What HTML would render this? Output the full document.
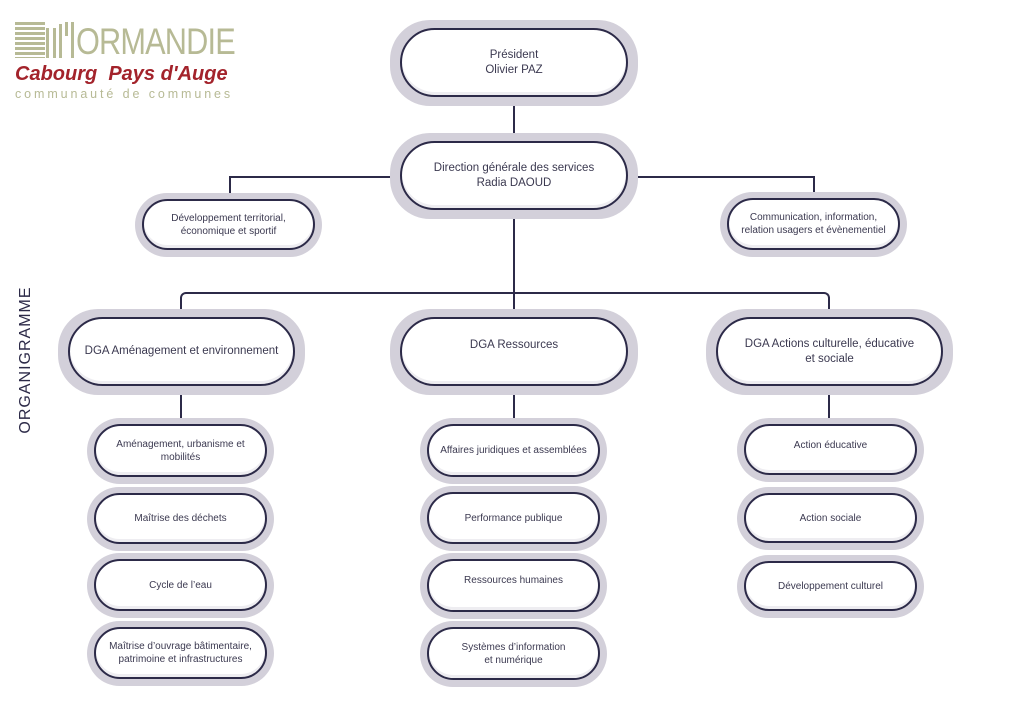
<!DOCTYPE html>
<html><head><meta charset="utf-8"><style>
body{margin:0;width:1024px;height:724px;background:#fff;position:relative;overflow:hidden;font-family:"Liberation Sans",sans-serif}
.o{position:absolute;background:#d3d0da;border-radius:40px}
.i{position:absolute;left:7px;right:7px;top:6px;bottom:7px;border:2px solid #2c2a48;border-radius:40px;background:#fff;box-shadow:inset 0 -3px 0 #eeedf1;display:flex;align-items:center;justify-content:center;text-align:center;color:#3b3950;font-size:10px;line-height:13px}
.b .i{font-size:11.5px;line-height:15px;left:10px;right:10px;top:8px;bottom:9px}
.l{position:absolute;background:#2c2a48}
</style></head><body>
<!-- logo -->
<div style="position:absolute;left:15px;top:22px;width:30px;height:36px;background:repeating-linear-gradient(#b7ba95 0 3px,transparent 3px 5px)"></div>
<div style="position:absolute;left:46px;top:28px;width:3px;height:30px;background:#b7ba95"></div>
<div style="position:absolute;left:53px;top:28px;width:3px;height:30px;background:#b7ba95"></div>
<div style="position:absolute;left:59px;top:24px;width:3px;height:34px;background:#b7ba95"></div>
<div style="position:absolute;left:65px;top:22px;width:3px;height:14px;background:#b7ba95"></div>
<div style="position:absolute;left:71px;top:22px;width:3px;height:36px;background:#b7ba95"></div>
<div style="position:absolute;left:76px;top:24px;font-size:37px;line-height:36px;color:#b7ba95;letter-spacing:-1px;transform:scaleX(0.83);transform-origin:left;white-space:nowrap">ORMANDIE</div>
<div style="position:absolute;left:15px;top:63px;font-size:20px;font-weight:bold;font-style:italic;color:#a3232b;white-space:nowrap">Cabourg&nbsp; Pays d'Auge</div>
<div style="position:absolute;left:15px;top:87px;font-size:12.5px;color:#b7ba95;letter-spacing:2.9px;white-space:nowrap">communauté de communes</div>
<div style="position:absolute;left:26px;top:360px;transform:translate(-50%,-50%) rotate(-90deg);font-size:16px;color:#2c2a48;letter-spacing:1px;white-space:nowrap">ORGANIGRAMME</div>
<!-- lines -->
<div class="l" style="left:513px;top:104px;width:2px;height:30px"></div>
<div class="l" style="left:513px;top:217px;width:2px;height:94px"></div>
<div class="l" style="left:229px;top:176px;width:162px;height:2px"></div>
<div class="l" style="left:229px;top:176px;width:2px;height:18px;border-radius:3px 0 0 0"></div>
<div class="l" style="left:637px;top:176px;width:178px;height:2px"></div>
<div class="l" style="left:813px;top:176px;width:2px;height:18px"></div>
<div style="position:absolute;left:180px;top:292px;width:646px;height:16px;border:2px solid #2c2a48;border-bottom:none;border-radius:6px 6px 0 0"></div>
<div class="l" style="left:180px;top:394px;width:2px;height:25px"></div>
<div class="l" style="left:513px;top:394px;width:2px;height:25px"></div>
<div class="l" style="left:828px;top:394px;width:2px;height:25px"></div>
<!-- boxes -->
<div class="o b" style="left:390px;top:20px;width:248px;height:86px"><div class="i">Président<br>Olivier PAZ</div></div>
<div class="o b" style="left:390px;top:133px;width:248px;height:86px"><div class="i">Direction générale des services<br>Radia DAOUD</div></div>
<div class="o" style="left:135px;top:193px;width:187px;height:64px"><div class="i">Développement territorial,<br>économique et sportif</div></div>
<div class="o" style="left:720px;top:192px;width:187px;height:65px"><div class="i">Communication, information,<br>relation usagers et évènementiel</div></div>
<div class="o b" style="left:58px;top:309px;width:247px;height:86px"><div class="i">DGA Aménagement et environnement</div></div>
<div class="o b" style="left:390px;top:309px;width:248px;height:86px"><div class="i" style="padding-bottom:12px">DGA Ressources</div></div>
<div class="o b" style="left:706px;top:309px;width:247px;height:86px"><div class="i">DGA Actions culturelle, éducative<br>et sociale</div></div>
<div class="o" style="left:87px;top:418px;width:187px;height:66px"><div class="i">Aménagement, urbanisme et<br>mobilités</div></div>
<div class="o" style="left:87px;top:487px;width:187px;height:64px"><div class="i">Maîtrise des déchets</div></div>
<div class="o" style="left:87px;top:553px;width:187px;height:65px"><div class="i">Cycle de l’eau</div></div>
<div class="o" style="left:87px;top:621px;width:187px;height:65px"><div class="i">Maîtrise d’ouvrage bâtimentaire,<br>patrimoine et infrastructures</div></div>
<div class="o" style="left:420px;top:418px;width:187px;height:66px"><div class="i">Affaires juridiques et assemblées</div></div>
<div class="o" style="left:420px;top:486px;width:187px;height:65px"><div class="i">Performance publique</div></div>
<div class="o" style="left:420px;top:553px;width:187px;height:66px"><div class="i" style="padding-bottom:10px">Ressources humaines</div></div>
<div class="o" style="left:420px;top:621px;width:187px;height:66px"><div class="i">Systèmes d’information<br>et numérique</div></div>
<div class="o" style="left:737px;top:418px;width:187px;height:64px"><div class="i" style="padding-bottom:8px">Action éducative</div></div>
<div class="o" style="left:737px;top:487px;width:187px;height:63px"><div class="i">Action sociale</div></div>
<div class="o" style="left:737px;top:555px;width:187px;height:63px"><div class="i">Développement culturel</div></div>
</body></html>
